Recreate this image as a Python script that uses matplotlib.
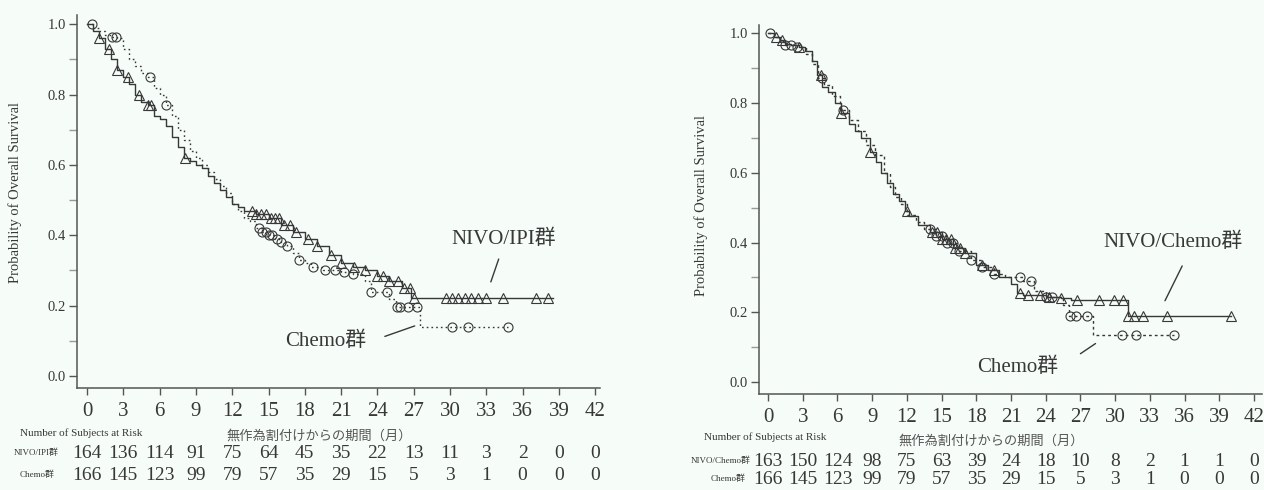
import numpy as np
import matplotlib
matplotlib.use("Agg")
from matplotlib import pyplot as plt
from matplotlib import transforms

plt.rcParams['font.family'] = ['Liberation Serif', 'Noto Sans CJK JP']

# ---- left panel: NIVO/IPI vs Chemo ----
ipi_t = [0, 0.5, 1.0, 1.5, 2.0, 2.5, 3.0, 3.5, 4.0, 4.5, 5.0, 5.5, 6.0, 6.5, 7.0, 7.5,
         8.0, 8.5, 9.0, 9.5, 10.0, 10.5, 11.0, 11.5, 12.0, 12.5, 13.0, 14.0, 15.0, 16.0,
         17.0, 18.0, 19.0, 20.0, 21.0, 22.0, 23.0, 24.0, 25.0, 26.0, 26.8, 38.5]
ipi_s = [1.0, 0.98, 0.96, 0.93, 0.90, 0.87, 0.85, 0.83, 0.80, 0.78, 0.77, 0.74, 0.73, 0.71,
         0.68, 0.65, 0.62, 0.61, 0.60, 0.59, 0.57, 0.55, 0.53, 0.51, 0.49, 0.48, 0.47, 0.46,
         0.45, 0.43, 0.41, 0.39, 0.37, 0.345, 0.32, 0.31, 0.30, 0.285, 0.27, 0.25, 0.222, 0.222]
ipi_cens = [1.0, 1.8, 2.5, 3.4, 4.3, 5.0, 5.3, 8.1, 13.6, 14.0, 14.4, 14.8, 15.2, 15.5, 15.9,
            16.3, 16.8, 17.3, 18.3, 19.0, 20.2, 21.0, 22.1, 23.0, 24.0, 24.5, 25.0, 25.7,
            26.2, 26.7, 27.0, 29.7, 30.2, 30.7, 31.2, 31.7, 32.3, 33.0, 34.4, 37.1, 38.1]

chemo1_t = [0, 0.5, 1.0, 1.5, 2.0, 2.5, 3.0, 3.5, 4.0, 4.5, 5.0, 5.5, 6.0, 6.5, 7.0, 7.5,
            8.0, 8.5, 9.0, 9.5, 10.0, 10.5, 11.0, 11.5, 12.0, 12.5, 13.0, 13.5, 14.0, 14.5,
            15.0, 15.5, 16.0, 16.5, 17.0, 17.5, 18.0, 18.5, 19.5, 21.0, 22.0, 23.0, 23.5,
            25.0, 25.5, 27.5, 34.8]
chemo1_s = [1.0, 0.99, 0.98, 0.97, 0.965, 0.96, 0.93, 0.90, 0.88, 0.86, 0.85, 0.82, 0.80,
            0.77, 0.74, 0.70, 0.67, 0.64, 0.62, 0.60, 0.58, 0.56, 0.54, 0.52, 0.49, 0.47,
            0.45, 0.44, 0.42, 0.41, 0.40, 0.39, 0.38, 0.37, 0.35, 0.33, 0.32, 0.31, 0.30,
            0.295, 0.29, 0.27, 0.24, 0.22, 0.196, 0.14, 0.14]
chemo1_cens = [0.4, 2.1, 2.4, 5.2, 6.5, 14.2, 14.5, 14.8, 15.0, 15.3, 15.7, 16.0, 16.5, 17.5,
               18.7, 19.7, 20.5, 21.2, 22.0, 23.5, 24.8, 25.6, 25.9, 26.5, 27.3, 30.2, 31.5, 34.8]

# ---- right panel: NIVO/Chemo vs Chemo ----
nc_t = [0, 0.5, 1.0, 1.5, 2.0, 2.7, 3.2, 3.8, 4.2, 4.7, 5.2, 5.8, 6.3, 7.0, 7.5, 8.0, 8.8,
        9.3, 9.8, 10.3, 10.8, 11.3, 11.8, 12.2, 13.0, 14.0, 15.0, 16.0, 17.0, 18.0, 19.0,
        20.0, 21.0, 21.5, 22.0, 24.0, 25.3, 26.2, 31.1, 40.0]
nc_s = [1.0, 0.99, 0.98, 0.97, 0.965, 0.96, 0.95, 0.92, 0.88, 0.845, 0.83, 0.80, 0.77, 0.74,
        0.72, 0.70, 0.66, 0.63, 0.60, 0.57, 0.54, 0.52, 0.49, 0.475, 0.45, 0.43, 0.41, 0.385,
        0.37, 0.335, 0.32, 0.30, 0.28, 0.255, 0.25, 0.245, 0.24, 0.235, 0.19, 0.19]
nc_cens = [0.7, 1.2, 2.7, 4.6, 6.3, 8.8, 12.0, 14.2, 14.6, 15.0, 15.4, 15.8, 16.2, 16.6, 17.0,
           18.5, 19.5, 21.8, 22.5, 23.5, 24.3, 25.3, 26.7, 28.6, 29.9, 30.7, 31.1, 31.6, 32.4,
           34.5, 40.0]

chemo2_t = [0, 0.5, 1.0, 1.5, 2.5, 3.3, 3.8, 4.3, 4.8, 5.5, 6.2, 7.0, 7.8, 8.5, 9.2, 10.0,
            10.5, 11.0, 11.5, 12.0, 12.8, 13.5, 14.5, 15.5, 16.5, 17.5, 18.5, 19.5, 20.5,
            22.0, 23.0, 24.0, 25.5, 26.0, 28.1, 35.1]
chemo2_s = [1.0, 0.99, 0.975, 0.965, 0.96, 0.94, 0.91, 0.87, 0.85, 0.82, 0.78, 0.75, 0.72,
            0.68, 0.65, 0.60, 0.56, 0.53, 0.51, 0.48, 0.46, 0.44, 0.42, 0.40, 0.375, 0.35,
            0.33, 0.31, 0.30, 0.29, 0.26, 0.245, 0.22, 0.19, 0.135, 0.135]
chemo2_cens = [0.2, 1.5, 2.0, 2.5, 4.7, 6.5, 14.0, 14.5, 15.0, 15.5, 16.0, 16.5, 17.5, 18.5,
               19.5, 21.8, 22.7, 24.0, 24.5, 26.1, 26.6, 27.6, 30.6, 31.8, 35.1]

risk_times = list(range(0, 43, 3))
risk_ipi = [164, 136, 114, 91, 75, 64, 45, 35, 22, 13, 11, 3, 2, 0, 0]
risk_chemo1 = [166, 145, 123, 99, 79, 57, 35, 29, 15, 5, 3, 1, 0, 0, 0]
risk_nc = [163, 150, 124, 98, 75, 63, 39, 24, 18, 10, 8, 2, 1, 1, 0]
risk_chemo2 = [166, 145, 123, 99, 79, 57, 35, 29, 15, 5, 3, 1, 0, 0, 0]

BG = '#f6fcf7'
INK = '#383838'


def step_at(t, s, x):
    idx = np.searchsorted(np.asarray(t), np.asarray(x), side='right') - 1
    return np.asarray(s)[idx]


def draw_km(ax, t, s, cens, ls, marker):
    ax.step(t, s, where='post', color=INK, lw=1.0, linestyle=ls)
    ax.plot(cens, step_at(t, s, cens), linestyle='none', marker=marker, ms=6.5,
            mfc='none', mec=INK, mew=0.8)


def style_axes(ax, xlim, ylim):
    ax.set_facecolor(BG)
    ax.set_xlim(*xlim)
    ax.set_ylim(*ylim)
    for side in ['top', 'right']:
        ax.spines[side].set_visible(False)
    for side in ['left', 'bottom']:
        ax.spines[side].set_color('#555555')
        ax.spines[side].set_linewidth(1.1)
    ax.set_xticks(risk_times)
    ax.set_yticks(np.arange(0, 1.01, 0.2))
    ax.set_yticks(np.arange(0.1, 1.0, 0.2), minor=True)
    ax.yaxis.set_major_formatter(matplotlib.ticker.FormatStrFormatter('%.1f'))
    ax.tick_params(axis='x', labelsize=15, length=5, width=1, pad=5, colors='#555555',
                   labelcolor=INK)
    ax.tick_params(axis='y', labelsize=10.5, length=6, width=1, pad=2, colors='#555555',
                   labelcolor=INK)
    ax.tick_params(axis='y', which='minor', length=6, width=1, colors='#999999')
    ax.set_ylabel('Probability of Overall Survival', fontsize=10.5, color=INK)


def risk_table(fig, ax, rows, labels, label_x, ys, head_y):
    tr = transforms.blended_transform_factory(ax.transData, fig.transFigure)
    for vals, y in zip(rows, ys):
        for t, v in zip(risk_times, vals):
            ax.text(t, y, str(v), transform=tr, ha='center', va='center', fontsize=14,
                    color=INK)
    for lab, lx, y in zip(labels, label_x, ys):
        fig.text(lx, y, lab, ha='center', va='center', fontsize=6.5, color=INK)
    fig.text(label_x[0] + 0.035, head_y, 'Number of Subjects at Risk', ha='center',
             va='center', fontsize=8, color=INK)


fig = plt.figure(figsize=(12.64, 4.9), dpi=100, facecolor=BG)

# left
ax1 = fig.add_axes([0.0609, 0.2082, 0.4138, 0.761])
style_axes(ax1, (-0.83, 42.4), (-0.034, 1.026))
ax1.yaxis.set_label_coords(-0.105, 0.525)
draw_km(ax1, chemo1_t, chemo1_s, chemo1_cens, (0, (1.2, 2.2)), 'o')
draw_km(ax1, ipi_t, ipi_s, ipi_cens, '-', '^')
ax1.text(34.4, 0.39, 'NIVO/IPI群', ha='center', va='center', fontsize=15, color=INK)
ax1.annotate('', xy=(33.3, 0.26), xytext=(34.1, 0.34),
             arrowprops=dict(arrowstyle='-', color=INK, lw=1))
ax1.text(19.7, 0.10, 'Chemo群', ha='center', va='center', fontsize=15, color=INK)
ax1.annotate('', xy=(27.3, 0.145), xytext=(24.4, 0.11),
             arrowprops=dict(arrowstyle='-', color=INK, lw=1))
ax1.text(19.2, -0.17, '無作為割付けからの期間（月）', ha='center', va='center',
         fontsize=9.5, color='#555555', transform=ax1.transData)
risk_table(fig, ax1, [risk_ipi, risk_chemo1], ['NIVO/IPI群', 'Chemo群'],
           [0.029, 0.029], [1 - 453 / 490, 1 - 475 / 490], 1 - 433 / 490)

# right
ax2 = fig.add_axes([0.6005, 0.1959, 0.398, 0.753])
style_axes(ax2, (-0.78, 42.7), (-0.034, 1.023))
ax2.yaxis.set_label_coords(-0.101, 0.51)
draw_km(ax2, chemo2_t, chemo2_s, chemo2_cens, (0, (2.0, 2.2)), 'o')
draw_km(ax2, nc_t, nc_s, nc_cens, '-', '^')
ax2.text(35.0, 0.40, 'NIVO/Chemo群', ha='center', va='center', fontsize=15, color=INK)
ax2.annotate('', xy=(34.2, 0.226), xytext=(35.9, 0.34),
             arrowprops=dict(arrowstyle='-', color=INK, lw=1))
ax2.text(21.6, 0.043, 'Chemo群', ha='center', va='center', fontsize=15, color=INK)
ax2.annotate('', xy=(28.5, 0.115), xytext=(26.8, 0.077),
             arrowprops=dict(arrowstyle='-', color=INK, lw=1))
ax2.text(19.3, -0.17, '無作為割付けからの期間（月）', ha='center', va='center',
         fontsize=9.5, color='#555555', transform=ax2.transData)
risk_table(fig, ax2, [risk_nc, risk_chemo2], ['NIVO/Chemo群', 'Chemo群'],
           [0.570, 0.576], [1 - 461 / 490, 1 - 479 / 490], 1 - 437 / 490)

fig.savefig('out.png', dpi=100, facecolor=BG)
